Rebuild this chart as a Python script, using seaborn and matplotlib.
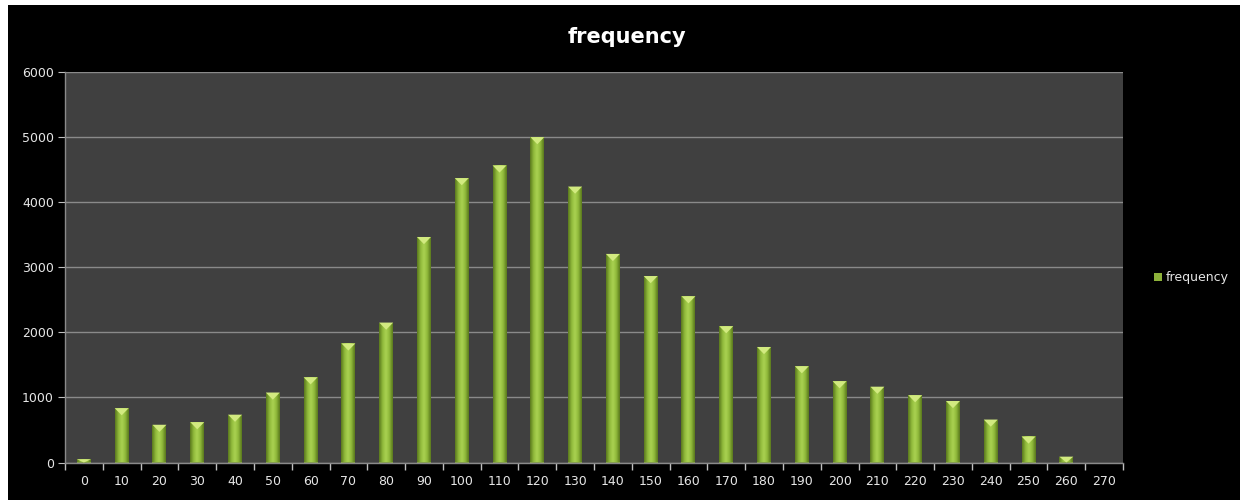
import numpy as np
import pandas as pd
import matplotlib
matplotlib.use('Agg')
import matplotlib.pyplot as plt
from matplotlib.patches import Rectangle, Polygon
from matplotlib.colors import LinearSegmentedColormap
import seaborn as sns

# Data
bins = list(range(0, 280, 10))
freq = [50, 835, 580, 620, 735, 1075, 1310, 1830, 2150, 3465,
        4370, 4565, 5000, 4240, 3205, 2865, 2555, 2095, 1775, 1480,
        1250, 1165, 1035, 945, 660, 400, 90, 0]

df = pd.DataFrame({'bin': [str(b) for b in bins], 'frequency': freq})

sns.set_style('dark')
plt.rcParams['font.family'] = ['DejaVu Sans']

fig = plt.figure(figsize=(12.43, 5), dpi=100)
fig.patch.set_facecolor('white')
# black chart area sitting on the spreadsheet
fig.patches.append(Rectangle((8 / 1243, 0), (1240 - 8) / 1243, 495 / 500,
                             transform=fig.transFigure, facecolor='black',
                             edgecolor='none', zorder=-1))

ax = fig.add_axes([65 / 1243, 37.5 / 500, (1123 - 65) / 1243, (462.5 - 72) / 500])
ax.set_facecolor('#404040')

sns.barplot(data=df, x='bin', y='frequency', color='#8db13a', width=0.37,
            linewidth=0, edgecolor='none', ax=ax, zorder=2, label='frequency')

# gradient fill + bevel top on each bar
cmap = LinearSegmentedColormap.from_list('g', ['#58771c', '#8fb83a', '#abd352', '#8fb83a', '#58771c'])
grad = np.linspace(0, 1, 64).reshape(1, -1)
for p in list(ax.patches):
    x0, y0 = p.get_x(), p.get_y()
    w, h = p.get_width(), p.get_height()
    if h <= 0:
        continue
    im = ax.imshow(grad, cmap=cmap, aspect='auto', extent=(x0, x0 + w, y0, y0 + h),
                   zorder=3, interpolation='bicubic')
    im.set_clip_path(p)
    th = min(110, h)
    tri = Polygon([(x0, y0 + h), (x0 + w, y0 + h), (x0 + w / 2, y0 + h - th)],
                  closed=True, facecolor='#d2ea80', edgecolor='none', zorder=4)
    ax.add_patch(tri)

ax.set_xlim(-0.5, len(bins) - 0.5)
ax.set_ylim(0, 6000)
ax.set_yticks(range(0, 7000, 1000))
ax.grid(axis='y', color='#8a8a8a', linewidth=1.0, zorder=1)
ax.grid(axis='x', visible=False)
ax.set_axisbelow(True)

for s in ['top', 'right']:
    ax.spines[s].set_visible(False)
for s in ['left', 'bottom']:
    ax.spines[s].set_visible(True)
    ax.spines[s].set_color('#8a8a8a')
    ax.spines[s].set_linewidth(1.0)

ax.set_xticks(np.arange(-0.5, len(bins), 1), minor=True)
ax.tick_params(axis='x', which='minor', length=5, color='#bfbfbf', width=1, bottom=True)
ax.tick_params(axis='x', which='major', length=0, pad=9, labelsize=9, labelcolor='#e6e6e6')
ax.tick_params(axis='y', which='major', left=True, length=5, color='#bfbfbf',
               labelsize=9, labelcolor='#e6e6e6', pad=3)
ax.set_xlabel('')
ax.set_ylabel('')

fig.text(627 / 1243, 1 - 37 / 500, 'frequency', color='white', fontsize=15,
         fontweight='bold', ha='center', va='center')

leg = ax.legend(loc='center left', bbox_to_anchor=(1143 / 1243, 1 - 278 / 500),
                bbox_transform=fig.transFigure, frameon=False, fontsize=9,
                handlelength=0.6, handleheight=0.6, handletextpad=0.3,
                labelcolor='#e6e6e6')
for h in leg.legend_handles:
    h.set_facecolor('#8db13a')
    h.set_edgecolor('none')
    h.set_linewidth(0)

fig.savefig('out.png', dpi=100, facecolor=fig.get_facecolor())
